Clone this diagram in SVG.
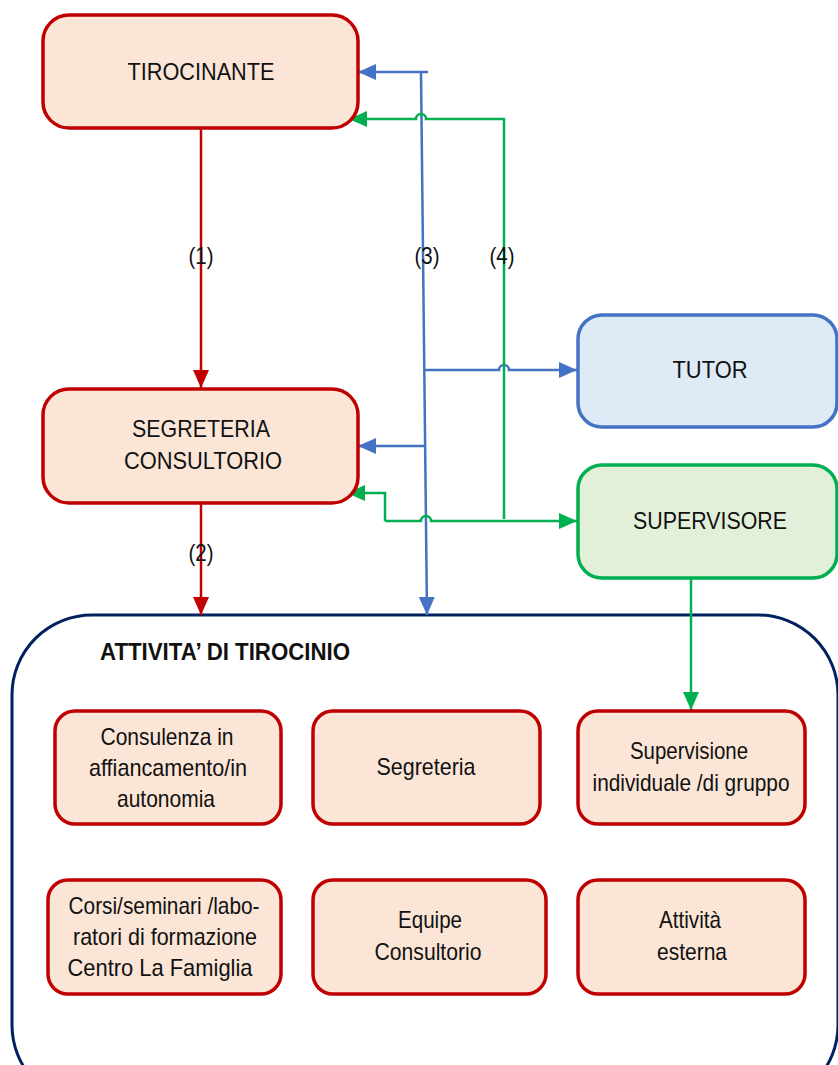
<svg xmlns="http://www.w3.org/2000/svg" width="838" height="1065" viewBox="0 0 838 1065">
<style>
text{font-family:"Liberation Sans",Arial,sans-serif;font-size:24px;fill:#111;text-anchor:middle}
.red{fill:#FBE5D6;stroke:#C00000;stroke-width:3.5}
.blue{fill:#DEEBF7;stroke:#4472C4;stroke-width:3.5}
.green{fill:#E2F0D9;stroke:#00B050;stroke-width:3.5}
.cr{fill:none;stroke:#C00000;stroke-width:2.5}
.cb{fill:none;stroke:#4472C4;stroke-width:2.5}
.cg{fill:none;stroke:#00B050;stroke-width:2.5}
</style>
<defs>
<marker id="ar" markerUnits="userSpaceOnUse" markerWidth="20" markerHeight="20" refX="18" refY="8" orient="auto"><path d="M0,0 L18,8 L0,16 z" fill="#C00000"/></marker>
<marker id="ab" markerUnits="userSpaceOnUse" markerWidth="20" markerHeight="20" refX="18" refY="8" orient="auto"><path d="M0,0 L18,8 L0,16 z" fill="#4472C4"/></marker>
<marker id="ag" markerUnits="userSpaceOnUse" markerWidth="20" markerHeight="20" refX="18" refY="8" orient="auto"><path d="M0,0 L18,8 L0,16 z" fill="#00B050"/></marker>
</defs>
<rect width="838" height="1065" fill="#fff"/>

<g id="attivita">
<rect x="12" y="615" width="826" height="490" rx="80" fill="none" stroke="#002060" stroke-width="3"/>
<text x="100" y="660" style="text-anchor:start;font-weight:bold" textLength="250" lengthAdjust="spacingAndGlyphs">ATTIVITA’ DI TIROCINIO</text>
</g>

<g id="connectors">
<path class="cr" d="M201,128 V388" marker-end="url(#ar)"/>
<path class="cr" d="M201,503 V615" marker-end="url(#ar)"/>
<path class="cb" d="M428,72 H358" marker-end="url(#ab)"/>
<path class="cb" d="M421,72 L427,615" marker-end="url(#ab)"/>
<path class="cb" d="M424,370 H499 a5,5 0 0 1 10,0 H577" marker-end="url(#ab)"/>
<path class="cb" d="M426,446 H358" marker-end="url(#ab)"/>
<path class="cg" d="M504,519 V119 H426 a5,5 0 0 0 -10,0 H349" marker-end="url(#ag)"/>
<path class="cg" d="M385,521 H421 a5,5 0 0 1 10,0 H577" marker-end="url(#ag)"/>
<path class="cg" d="M385,521 V493 H347" marker-end="url(#ag)"/>
<path class="cg" d="M691,578 V710" marker-end="url(#ag)"/>
<text x="201" y="264" textLength="25" lengthAdjust="spacingAndGlyphs">(1)</text>
<text x="201" y="561" textLength="25" lengthAdjust="spacingAndGlyphs">(2)</text>
<text x="427" y="264" textLength="25" lengthAdjust="spacingAndGlyphs">(3)</text>
<text x="502" y="264" textLength="25" lengthAdjust="spacingAndGlyphs">(4)</text>
</g>

<g id="tirocinante">
<rect class="red" x="43" y="15" width="315" height="113" rx="26"/>
<text x="201" y="80" textLength="147" lengthAdjust="spacingAndGlyphs">TIROCINANTE</text>
</g>
<g id="segreteria-consultorio">
<rect class="red" x="43" y="389" width="315" height="114" rx="26"/>
<text x="201" y="437" textLength="138" lengthAdjust="spacingAndGlyphs">SEGRETERIA</text>
<text x="203" y="469" textLength="158" lengthAdjust="spacingAndGlyphs">CONSULTORIO</text>
</g>
<g id="tutor">
<rect class="blue" x="578" y="315" width="259" height="112" rx="24"/>
<text x="710" y="378" textLength="75" lengthAdjust="spacingAndGlyphs">TUTOR</text>
</g>
<g id="supervisore">
<rect class="green" x="578" y="465" width="259" height="113" rx="24"/>
<text x="710" y="529" textLength="154" lengthAdjust="spacingAndGlyphs">SUPERVISORE</text>
</g>

<g id="consulenza">
<rect class="red" x="55" y="711" width="226" height="113" rx="20"/>
<text x="167" y="745" textLength="133" lengthAdjust="spacingAndGlyphs">Consulenza in</text>
<text x="168" y="776" textLength="158" lengthAdjust="spacingAndGlyphs">affiancamento/in</text>
<text x="166" y="807" textLength="98" lengthAdjust="spacingAndGlyphs">autonomia</text>
</g>
<g id="segreteria">
<rect class="red" x="313" y="711" width="227" height="113" rx="20"/>
<text x="426" y="775" textLength="99" lengthAdjust="spacingAndGlyphs">Segreteria</text>
</g>
<g id="supervisione">
<rect class="red" x="578" y="711" width="227" height="113" rx="20"/>
<text x="689" y="759" textLength="118" lengthAdjust="spacingAndGlyphs">Supervisione</text>
<text x="691" y="791" textLength="197" lengthAdjust="spacingAndGlyphs">individuale /di gruppo</text>
</g>
<g id="corsi">
<rect class="red" x="48" y="880" width="233" height="114" rx="20"/>
<text x="164" y="914" textLength="191" lengthAdjust="spacingAndGlyphs">Corsi/seminari /labo-</text>
<text x="165" y="945" textLength="184" lengthAdjust="spacingAndGlyphs">ratori di formazione</text>
<text x="160" y="976" textLength="185" lengthAdjust="spacingAndGlyphs">Centro La Famiglia</text>
</g>
<g id="equipe">
<rect class="red" x="313" y="880" width="233" height="114" rx="20"/>
<text x="430" y="928" textLength="64" lengthAdjust="spacingAndGlyphs">Equipe</text>
<text x="428" y="960" textLength="107" lengthAdjust="spacingAndGlyphs">Consultorio</text>
</g>
<g id="attivita-esterna">
<rect class="red" x="578" y="880" width="227" height="114" rx="20"/>
<text x="690" y="928" textLength="62" lengthAdjust="spacingAndGlyphs">Attività</text>
<text x="692" y="960" textLength="70" lengthAdjust="spacingAndGlyphs">esterna</text>
</g>
</svg>
